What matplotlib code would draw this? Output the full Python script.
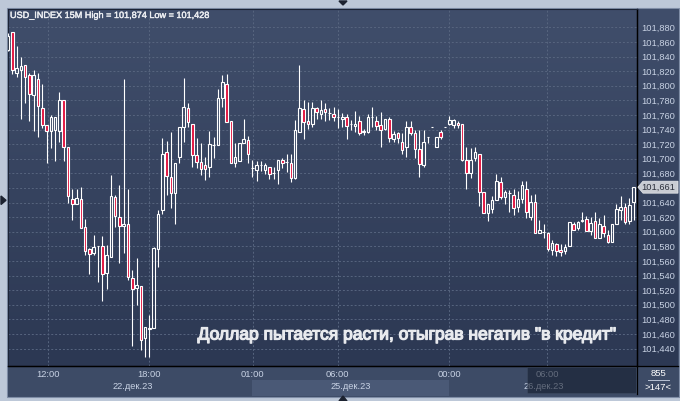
import matplotlib
matplotlib.use("Agg")
import matplotlib.pyplot as plt
import matplotlib.transforms as mtransforms
import matplotlib.patheffects as pe
import numpy as np
from matplotlib.patches import Rectangle, Polygon
from matplotlib.colors import to_rgb

plt.rcParams['font.family'] = ['Liberation Sans', 'DejaVu Sans']

# 15M candles, USD_INDEX
opens = [101.849, 101.873, 101.817, 101.822, 101.828, 101.814, 101.787, 101.809, 101.770, 101.746,
         101.738, 101.739, 101.738, 101.781, 101.716, 101.645, 101.638, 101.645, 101.606, 101.576,
         101.571, 101.580, 101.580, 101.543, 101.566, 101.647, 101.620, 101.608, 101.611, 101.537,
         101.523, 101.525, 101.455, 101.467, 101.468, 101.576, 101.630, 101.709, 101.675, 101.653,
         101.702, 101.743, 101.770, 101.748, 101.705, 101.695, 101.691, 101.688, 101.719, 101.719,
         101.783, 101.803, 101.751, 101.694, 101.697, 101.722, 101.726, 101.687, 101.685, 101.691,
         101.685, 101.688, 101.680, 101.685, 101.698, 101.696, 101.694, 101.673, 101.736, 101.768,
         101.752, 101.748, 101.769, 101.761, 101.768, 101.762, 101.761, 101.757, 101.754, 101.757,
         101.747, 101.745, 101.751, 101.736, 101.737, 101.757, 101.751, 101.746, 101.741, 101.755,
         101.727, 101.735, 101.723, 101.716, 101.743, 101.735, 101.713, 101.691, 101.730, 101.743,
         101.716, 101.737, 101.743, 101.747, 101.746, 101.749, 101.747, 101.698, 101.680, 101.701,
         101.707, 101.655, 101.626, 101.631, 101.643, 101.668, 101.647, 101.653, 101.650, 101.634,
         101.645, 101.658, 101.620, 101.641, 101.598, 101.599, 101.598, 101.575, 101.583, 101.575,
         101.573, 101.581, 101.611, 101.605, 101.614, 101.617, 101.601, 101.614, 101.591, 101.608,
         101.595, 101.586, 101.611, 101.630, 101.634, 101.614, 101.641]
highs = [101.872, 101.874, 101.854, 101.839, 101.828, 101.817, 101.821, 101.817, 101.802, 101.746,
         101.760, 101.757, 101.792, 101.781, 101.716, 101.659, 101.659, 101.661, 101.617, 101.577,
         101.596, 101.580, 101.594, 101.582, 101.678, 101.650, 101.664, 101.809, 101.658, 101.548,
         101.564, 101.525, 101.470, 101.486, 101.579, 101.630, 101.728, 101.724, 101.736, 101.694,
         101.744, 101.810, 101.777, 101.748, 101.728, 101.721, 101.703, 101.738, 101.730, 101.795,
         101.814, 101.816, 101.751, 101.721, 101.721, 101.754, 101.731, 101.698, 101.697, 101.697,
         101.694, 101.689, 101.689, 101.698, 101.701, 101.706, 101.706, 101.753, 101.828, 101.780,
         101.778, 101.778, 101.771, 101.781, 101.776, 101.769, 101.771, 101.768, 101.763, 101.761,
         101.753, 101.765, 101.758, 101.741, 101.761, 101.771, 101.758, 101.764, 101.755, 101.757,
         101.738, 101.737, 101.735, 101.751, 101.752, 101.739, 101.739, 101.739, 101.730, 101.743,
         101.730, 101.739, 101.743, 101.758, 101.754, 101.752, 101.747, 101.716, 101.714, 101.716,
         101.707, 101.655, 101.638, 101.649, 101.679, 101.675, 101.657, 101.657, 101.658, 101.656,
         101.669, 101.669, 101.650, 101.652, 101.616, 101.610, 101.600, 101.588, 101.584, 101.583,
         101.583, 101.613, 101.613, 101.615, 101.627, 101.621, 101.620, 101.627, 101.619, 101.623,
         101.602, 101.611, 101.638, 101.649, 101.639, 101.646, 101.661]
lows = [101.848, 101.816, 101.812, 101.754, 101.776, 101.752, 101.738, 101.730, 101.742, 101.694,
        101.714, 101.697, 101.723, 101.697, 101.639, 101.616, 101.638, 101.605, 101.568, 101.542,
        101.568, 101.531, 101.505, 101.522, 101.566, 101.607, 101.557, 101.571, 101.534, 101.443,
        101.500, 101.438, 101.428, 101.429, 101.468, 101.551, 101.624, 101.650, 101.633, 101.610,
        101.694, 101.723, 101.743, 101.689, 101.687, 101.678, 101.671, 101.675, 101.701, 101.719,
        101.771, 101.750, 101.694, 101.688, 101.697, 101.722, 101.694, 101.675, 101.670, 101.683,
        101.679, 101.672, 101.672, 101.666, 101.687, 101.682, 101.668, 101.672, 101.736, 101.727,
        101.741, 101.744, 101.755, 101.755, 101.751, 101.753, 101.751, 101.742, 101.744, 101.727,
        101.739, 101.736, 101.732, 101.732, 101.735, 101.743, 101.739, 101.716, 101.739, 101.723,
        101.723, 101.722, 101.707, 101.702, 101.732, 101.701, 101.675, 101.689, 101.721, 101.743,
        101.716, 101.727, 101.743, 101.746, 101.742, 101.742, 101.697, 101.658, 101.674, 101.697,
        101.635, 101.626, 101.614, 101.626, 101.643, 101.645, 101.638, 101.627, 101.623, 101.627,
        101.639, 101.619, 101.616, 101.598, 101.598, 101.591, 101.573, 101.568, 101.567, 101.567,
        101.570, 101.580, 101.602, 101.602, 101.613, 101.601, 101.595, 101.591, 101.591, 101.593,
        101.585, 101.586, 101.611, 101.616, 101.610, 101.610, 101.616]
closes = [101.868, 101.822, 101.824, 101.827, 101.812, 101.788, 101.814, 101.772, 101.746, 101.738,
          101.757, 101.757, 101.780, 101.716, 101.649, 101.638, 101.646, 101.605, 101.574, 101.570,
          101.579, 101.580, 101.542, 101.568, 101.649, 101.621, 101.608, 101.611, 101.538, 101.522,
          101.527, 101.451, 101.470, 101.468, 101.577, 101.624, 101.707, 101.677, 101.653, 101.694,
          101.744, 101.771, 101.750, 101.705, 101.696, 101.686, 101.686, 101.720, 101.719, 101.783,
          101.805, 101.750, 101.694, 101.703, 101.721, 101.727, 101.707, 101.687, 101.691, 101.691,
          101.691, 101.679, 101.680, 101.698, 101.694, 101.696, 101.674, 101.740, 101.769, 101.750,
          101.748, 101.769, 101.764, 101.767, 101.764, 101.762, 101.757, 101.757, 101.757, 101.745,
          101.747, 101.747, 101.735, 101.738, 101.757, 101.757, 101.745, 101.739, 101.754, 101.729,
          101.734, 101.729, 101.712, 101.743, 101.735, 101.713, 101.693, 101.723, 101.730, 101.743,
          101.730, 101.730, 101.743, 101.753, 101.753, 101.746, 101.698, 101.681, 101.698, 101.709,
          101.654, 101.626, 101.638, 101.643, 101.669, 101.647, 101.655, 101.653, 101.633, 101.645,
          101.664, 101.627, 101.641, 101.598, 101.603, 101.599, 101.576, 101.585, 101.573, 101.572,
          101.579, 101.613, 101.603, 101.613, 101.616, 101.601, 101.612, 101.592, 101.611, 101.598,
          101.586, 101.611, 101.631, 101.634, 101.613, 101.637, 101.661]

price_ticks = [101.440, 101.460, 101.480, 101.500, 101.520, 101.540, 101.560, 101.580, 101.600,
               101.620, 101.640, 101.660, 101.680, 101.700, 101.720, 101.740, 101.760, 101.780,
               101.800, 101.820, 101.840, 101.860, 101.880]
time_ticks = [9.3, 33.0, 57.1, 76.9, 103.0, 125.9]
time_labels = ['12:00', '18:00', '01:00', '06:00', '00:00', '06:00']
date_pos = [29.2, 80.1, 125.1]
date_labels = ['22.дек.23', '25.дек.23', '26.дек.23']
title = 'USD_INDEX 15M High = 101,874 Low = 101,428'
note = 'Доллар пытается расти, отыграв негатив "в кредит"'
bars_total = '855'
bars_shown = '>147<'

W, H = 680, 401
fig = plt.figure(figsize=(W / 100, H / 100), dpi=100, facecolor='#bdc8d8')


def frac(x0, y0, x1, y1):
    return [x0 / W, 1 - y1 / H, (x1 - x0) / W, (y1 - y0) / H]


# background layer in pixel coordinates
bg = fig.add_axes([0, 0, 1, 1])
bg.set_xlim(0, W)
bg.set_ylim(H, 0)
bg.axis('off')
bg.set_zorder(0)

bg.add_patch(Rectangle((7, 8), 672, 389, facecolor='#3d4b66', edgecolor='#7f8da6', lw=0.8))
top_c, bot_c = np.array(to_rgb('#404e6b')), np.array(to_rgb('#2c3853'))
t = np.linspace(0, 1, 200)[:, None]
grad = (top_c[None, :] * (1 - t) + bot_c[None, :] * t)[:, None, :]
bg.imshow(grad, extent=(8, 678, 366, 9), aspect='auto', origin='upper', zorder=1)
bg.add_patch(Rectangle((8, 366), 670, 30, facecolor='#3d4b66', edgecolor='none', zorder=1))
bg.add_patch(Rectangle((252, 380), 197, 16, facecolor='#4a5976', edgecolor='none', zorder=2))
bg.plot([637, 637], [9, 394], color='black', lw=0.9, zorder=3)
bg.plot([8, 678], [366, 366], color='black', lw=0.9, zorder=3)
bg.plot([648, 669], [380, 380], color='#b8c2d4', lw=0.7, zorder=3)
bg.text(658.5, 373.5, bars_total, color='white', fontsize=6.8, ha='center', va='center', zorder=4)
bg.text(658.5, 387, bars_shown, color='white', fontsize=6.8, ha='center', va='center', zorder=4)
# scroll markers
bg.add_patch(Polygon([(339, 1), (347, 1), (343, 5)], closed=True, color='#1c2230', zorder=4))
bg.add_patch(Polygon([(339, 401), (347, 401), (343, 396)], closed=True, color='#1c2230', zorder=4))
bg.add_patch(Polygon([(1, 196), (1, 204.5), (6, 200.3)], closed=True, color='#1c2230', zorder=4))
ttl = bg.text(10, 15.5, title, color='#eceef2', fontsize=7.2, ha='left', va='center', zorder=4,
              path_effects=[pe.withStroke(linewidth=0.3, foreground='#eceef2')])

# main price axes
ax = fig.add_axes(frac(8, 9, 637, 366))
ax.set_zorder(1)
ax.patch.set_visible(False)

x = np.arange(len(opens))
o, h, l, c = map(np.array, (opens, highs, lows, closes))
top = np.maximum(o, c)
bot = np.minimum(o, c)
ax.vlines(x, top, h, color='white', lw=0.8, zorder=3)
ax.vlines(x, l, bot, color='white', lw=0.8, zorder=3)
face = ['#e2123e' if cc < oo else 'none' for oo, cc in zip(opens, closes)]
ax.bar(x, top - bot, bottom=bot, width=0.6, color=face, edgecolor='white', linewidth=0.8, zorder=4)

last = closes[-1]
ax.set_xlim(-0.005, 146.8)
ax.set_ylim(101.41603, 101.9051)
ax.set_yticks(price_ticks)
# the label under the last-price tag is hidden, as on the terminal
ax.set_yticklabels(['' if abs(p - last) < 0.005 else f'{p:.3f}'.replace('.', ',')
                    for p in price_ticks])
ax.yaxis.tick_right()
ax.tick_params(axis='y', length=0, pad=2.9, labelsize=6.7, labelcolor='#c8d2e4')
ax.set_xticks(time_ticks)
ax.set_xticklabels([])
ax.tick_params(axis='x', length=0)
ax.grid(True, color='#57657f', linestyle=(0, (2, 2)), linewidth=0.7)
for side in ['left', 'top']:
    ax.spines[side].set_color('#1c2436')
    ax.spines[side].set_linewidth(0.8)
for side in ['right', 'bottom']:
    ax.spines[side].set_color('black')
    ax.spines[side].set_linewidth(0.9)

xt = ax.get_xaxis_transform()
for pos, lab in zip(time_ticks, time_labels):
    ax.text(pos, -0.0238, lab, transform=xt, color='#c8d2e4', fontsize=6.7,
            ha='center', va='center', clip_on=False)
for pos, lab in zip(date_pos, date_labels):
    ax.text(pos, -0.0565, lab, transform=xt, color='#c8d2e4', fontsize=6.7,
            ha='center', va='center', clip_on=False)
# dimmed future zone on the time axis
ax.add_patch(Rectangle((0.8251, -0.0756), 0.1733, 0.0728, transform=ax.transAxes,
                       facecolor='#101828', alpha=0.55, edgecolor='#4a566c', lw=0.4,
                       clip_on=False, zorder=10))

# last price tag
bt = mtransforms.blended_transform_factory(ax.transAxes, ax.transData)
d = 6 / 730
ax.add_patch(Polygon([(1.0014, last), (1.0095, last + d), (1.0652, last + d),
                      (1.0652, last - d), (1.0095, last - d)], closed=True, transform=bt,
                     facecolor='#c9ccd3', edgecolor='#e8eaee', lw=0.5, clip_on=False, zorder=8))
ax.text(1.0075, last, f'{last:.3f}'.replace('.', ','), transform=bt, color='#2a2e3a',
        fontsize=6.7, ha='left', va='center', clip_on=False, zorder=9)

txt = ax.text(0.636, 0.0868, note, transform=ax.transAxes, color='#e8eaee', fontsize=13,
              ha='center', va='center', zorder=6,
              path_effects=[pe.withStroke(linewidth=0.9, foreground='#e8eaee')])

# fit text widths to the screenshot
fig.canvas.draw()
r = fig.canvas.get_renderer()
for artist, target in ((txt, 417.0), (ttl, 200.0)):
    w = artist.get_window_extent(r).width
    artist.set_fontsize(artist.get_fontsize() * target / w)

fig.savefig('out.png', dpi=100, facecolor=fig.get_facecolor())
